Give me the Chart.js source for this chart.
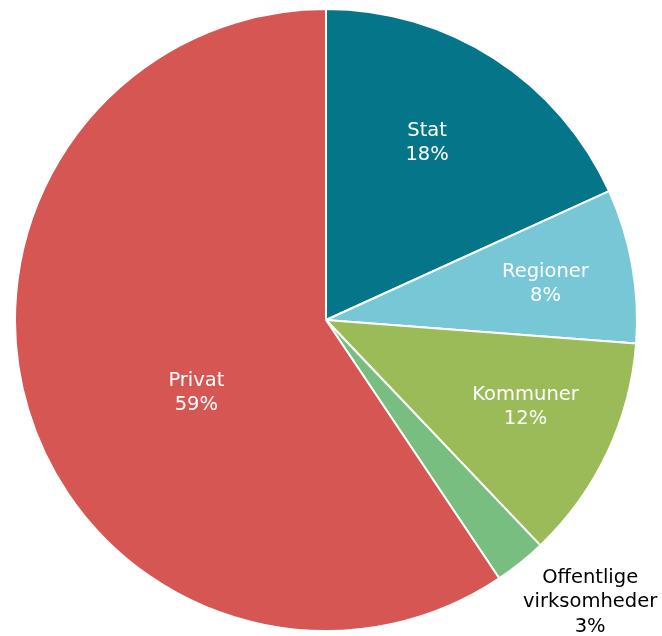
<!DOCTYPE html>
<html>
<head>
<meta charset="utf-8">
<script src="https://cdn.jsdelivr.net/npm/chart.js@4/dist/chart.umd.min.js"></script>
<style>
  html, body { margin: 0; padding: 0; background: #fff; }
  canvas { display: block; }
</style>
</head>
<body>
<canvas id="pie" width="662" height="636"></canvas>
<script>
// Share by sector (%)
const sectors = ['Stat', 'Regioner', 'Kommuner', 'Offentlige virksomheder', 'Privat'];
const shares = [18.2, 8.0, 11.7, 2.7, 59.4];
const colors = ['#05768A', '#77C7D7', '#9BBB59', '#77BE80', '#D65653'];

// label placement: fraction of radius, angle tweak (deg), text colour
const labelRadius = [0.655, 0.715, 0.70, 1.243, 0.478];
const labelShift = [-3, 0.8, -1.8, -4.4, -12.4];
const labelColor = ['#fff', '#fff', '#fff', '#000', '#fff'];
const labelLines = [['Stat'], ['Regioner'], ['Kommuner'], ['Offentlige', 'virksomheder'], ['Privat']];

const sliceLabels = {
  id: 'sliceLabels',
  afterDatasetsDraw(chart) {
    const ctx = chart.ctx;
    const meta = chart.getDatasetMeta(0);
    const total = shares.reduce((a, b) => a + b, 0);
    ctx.save();
    ctx.font = '19.5px "DejaVu Sans", Verdana, sans-serif';
    ctx.textAlign = 'center';
    ctx.textBaseline = 'middle';
    meta.data.forEach((arc, i) => {
      const p = arc.getProps(['x', 'y', 'startAngle', 'endAngle', 'outerRadius'], true);
      const mid = (p.startAngle + p.endAngle) / 2 + labelShift[i] * Math.PI / 180;
      const r = p.outerRadius * labelRadius[i];
      const cx = p.x + Math.cos(mid) * r;
      const cy = p.y + Math.sin(mid) * r;
      const lines = labelLines[i].concat([Math.round(shares[i] / total * 100) + '%']);
      const lh = 24.5;
      ctx.fillStyle = labelColor[i];
      lines.forEach((t, k) => {
        ctx.fillText(t, cx, cy + (k - (lines.length - 1) / 2) * lh);
      });
    });
    ctx.restore();
  }
};

new Chart(document.getElementById('pie'), {
  type: 'pie',
  data: {
    labels: sectors,
    datasets: [{
      data: shares,
      backgroundColor: colors,
      borderColor: '#ffffff',
      borderWidth: 2
    }]
  },
  options: {
    responsive: false,
    animation: false,
    layout: { padding: { left: 2, right: 12, top: 8, bottom: 4 } },
    plugins: {
      legend: { display: false },
      tooltip: { enabled: false }
    }
  },
  plugins: [sliceLabels]
});
</script>
</body>
</html>
